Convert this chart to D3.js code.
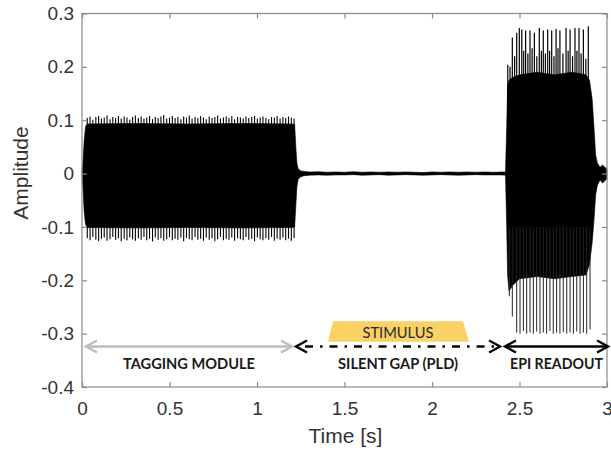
<!DOCTYPE html>
<html>
<head>
<meta charset="utf-8">
<script src="https://cdn.jsdelivr.net/npm/d3@7"></script>
<style>
  body { margin: 0; background: #fff; }
  svg { display: block; }
</style>
</head>
<body>
<div id="chart"></div>
<script>
// tick labels
const xTicks = [0, 0.5, 1, 1.5, 2, 2.5, 3]
const yTicks = [-0.4, -0.3, -0.2, -0.1, 0, 0.1, 0.2, 0.3]

// solid core of the signal: time, upper edge, lower edge
const bodyT = [0, 0.006, 0.012, 0.02, 0.03, 0.3, 0.6, 0.9, 1.2, 1.215, 1.222, 1.228, 1.235, 1.25, 1.27,
  1.3, 1.35, 1.4, 1.45, 1.5, 1.55, 1.6, 1.65, 1.7, 1.75, 1.8, 1.85, 1.9, 1.95, 2.0, 2.05, 2.1, 2.15,
  2.2, 2.25, 2.3, 2.35, 2.4, 2.42, 2.427, 2.432, 2.44, 2.46, 2.5, 2.6, 2.7, 2.8, 2.88, 2.9, 2.915,
  2.925, 2.935, 2.945, 2.96, 2.975, 2.985, 3.0]
const bodyHi = [0, 0.025, 0.06, 0.088, 0.093, 0.094, 0.093, 0.094, 0.093, 0.092, 0.05, 0.02, 0.009, 0.005, 0.004,
  0.003, 0.0035, 0.0025, 0.003, 0.0025, 0.0035, 0.0025, 0.003, 0.0025, 0.003, 0.0025, 0.003, 0.0025, 0.002, 0.003, 0.0025, 0.003, 0.0025,
  0.003, 0.0025, 0.003, 0.0025, 0.003, 0.003, 0.09, 0.165, 0.175, 0.18, 0.185, 0.19, 0.185, 0.19, 0.185, 0.175, 0.14,
  0.09, 0.035, 0.02, 0.012, 0.016, 0.013, 0.008]
const bodyLo = [0, -0.03, -0.07, -0.095, -0.101, -0.102, -0.101, -0.102, -0.101, -0.1, -0.06, -0.025, -0.011, -0.006, -0.004,
  -0.003, -0.0025, -0.003, -0.0025, -0.0025, -0.002, -0.003, -0.0025, -0.002, -0.003, -0.0025, -0.002, -0.0025, -0.003, -0.0025, -0.002, -0.0025, -0.003,
  -0.0025, -0.002, -0.0025, -0.0025, -0.0025, -0.003, -0.1, -0.19, -0.22, -0.21, -0.197, -0.193, -0.197, -0.193, -0.19, -0.17, -0.13,
  -0.09, -0.04, -0.022, -0.012, -0.018, -0.014, -0.01]

// tagging module oscillation peaks
const tagT = [0.030, 0.046, 0.062, 0.079, 0.095, 0.111, 0.127, 0.143, 0.160, 0.176,
  0.192, 0.208, 0.224, 0.241, 0.257, 0.273, 0.289, 0.305, 0.322, 0.338,
  0.354, 0.370, 0.386, 0.403, 0.419, 0.435, 0.451, 0.467, 0.484, 0.500,
  0.516, 0.532, 0.548, 0.565, 0.581, 0.597, 0.613, 0.629, 0.646, 0.662,
  0.678, 0.694, 0.710, 0.727, 0.743, 0.759, 0.775, 0.791, 0.808, 0.824,
  0.840, 0.856, 0.872, 0.889, 0.905, 0.921, 0.937, 0.953, 0.970, 0.986,
  1.002, 1.018, 1.034, 1.051, 1.067, 1.083, 1.099, 1.115, 1.132, 1.148,
  1.164, 1.180, 1.196, 1.212]
const tagHi = [0.104, 0.107, 0.101, 0.106, 0.108, 0.103, 0.105, 0.109, 0.102, 0.106,
  0.104, 0.108, 0.103, 0.107, 0.105, 0.101, 0.106, 0.109, 0.104, 0.107,
  0.103, 0.105, 0.108, 0.102, 0.106, 0.104, 0.107, 0.110, 0.103, 0.105,
  0.108, 0.104, 0.106, 0.102, 0.107, 0.105, 0.109, 0.103, 0.106, 0.104,
  0.108, 0.105, 0.102, 0.107, 0.104, 0.106, 0.109, 0.103, 0.105, 0.107,
  0.104, 0.108, 0.102, 0.106, 0.105, 0.103, 0.107, 0.104, 0.106, 0.108,
  0.103, 0.105, 0.107, 0.104, 0.102, 0.106, 0.105, 0.108, 0.103, 0.106,
  0.104, 0.107, 0.105, 0.103]
const tagLo = [-0.121, -0.125, -0.119, -0.124, -0.127, -0.122, -0.120, -0.126, -0.123, -0.119,
  -0.124, -0.121, -0.127, -0.122, -0.125, -0.120, -0.123, -0.126, -0.121, -0.124,
  -0.119, -0.125, -0.122, -0.127, -0.120, -0.124, -0.121, -0.126, -0.123, -0.119,
  -0.125, -0.122, -0.124, -0.120, -0.127, -0.121, -0.123, -0.125, -0.119, -0.124,
  -0.122, -0.126, -0.120, -0.124, -0.121, -0.127, -0.123, -0.119, -0.125, -0.122,
  -0.124, -0.120, -0.126, -0.121, -0.123, -0.125, -0.119, -0.124, -0.122, -0.127,
  -0.120, -0.123, -0.125, -0.121, -0.124, -0.119, -0.126, -0.122, -0.124, -0.120,
  -0.125, -0.122, -0.126, -0.121]

// EPI readout echoes, upper and lower peaks
const epiTopT = [2.433, 2.446, 2.459, 2.472, 2.484, 2.499, 2.513, 2.524, 2.535, 2.548,
  2.560, 2.572, 2.585, 2.599, 2.613, 2.625, 2.636, 2.648, 2.661, 2.672,
  2.684, 2.697, 2.709, 2.720, 2.731, 2.748, 2.766, 2.778, 2.789, 2.803,
  2.817, 2.828, 2.840, 2.852, 2.865, 2.879, 2.893]
const epiTopHi = [0.204, 0.200, 0.255, 0.220, 0.264, 0.273, 0.270, 0.230, 0.268, 0.225,
  0.268, 0.235, 0.264, 0.220, 0.273, 0.230, 0.268, 0.225, 0.270, 0.230,
  0.268, 0.220, 0.271, 0.235, 0.268, 0.225, 0.273, 0.230, 0.270, 0.220,
  0.273, 0.230, 0.273, 0.225, 0.270, 0.215, 0.276]
const epiBotT = [2.442, 2.459, 2.484, 2.503, 2.522, 2.541, 2.560, 2.579, 2.598, 2.617,
  2.636, 2.655, 2.674, 2.693, 2.712, 2.731, 2.750, 2.770, 2.789, 2.808,
  2.827, 2.846, 2.865, 2.884, 2.903]
const epiBotLo = [-0.230, -0.268, -0.298, -0.300, -0.295, -0.300, -0.298, -0.300, -0.296, -0.300,
  -0.298, -0.300, -0.295, -0.300, -0.298, -0.300, -0.297, -0.300, -0.298, -0.300,
  -0.296, -0.300, -0.298, -0.300, -0.292]

// sequence phases (time spans) and stimulus window
const phaseNames = ["TAGGING MODULE", "SILENT GAP (PLD)", "EPI READOUT"]
const phaseStart = [0.023, 1.223, 2.417]
const phaseEnd = [1.2, 2.389, 3.006]
const phaseLevel = -0.324
const stimulusLabel = "STIMULUS"
const stimulusTop = [1.434, 2.177, -0.277]
const stimulusBottom = [1.406, 2.211, -0.315]

const width = 611
const height = 453
const margin = {top: 13.5, right: 4, bottom: 66, left: 82}
const axisColor = "#8a8a8a"
const textColor = "#333"

const svg = d3.select('#chart')
  .append("svg")
  .attr("width", width)
  .attr("height", height)

const x = d3.scaleLinear()
  .domain([0, 3])
  .range([margin.left, width - margin.right])
const y = d3.scaleLinear()
  .domain([-0.4, 0.3])
  .range([height - margin.bottom, margin.top])

// waveform core
const area = d3.area()
  .x(function(i) { return x(bodyT[i]) })
  .y0(function(i) { return y(bodyLo[i]) })
  .y1(function(i) { return y(bodyHi[i]) })
svg.append("path")
  .datum(d3.range(bodyT.length))
  .attr("d", area)
  .attr("fill", "#000")
  .attr("stroke", "#000")
  .attr("stroke-width", 0.6)

// oscillation peaks
svg.append("g").selectAll("line")
  .data(d3.range(tagT.length))
  .enter()
  .append("line")
  .attr("x1", function(i) { return x(tagT[i]) })
  .attr("x2", function(i) { return x(tagT[i]) })
  .attr("y1", function(i) { return y(tagLo[i]) })
  .attr("y2", function(i) { return y(tagHi[i]) })
  .attr("stroke", "#000")
  .attr("stroke-width", 1.1)

svg.append("g").selectAll("line")
  .data(d3.range(epiTopT.length))
  .enter()
  .append("line")
  .attr("x1", function(i) { return x(epiTopT[i]) })
  .attr("x2", function(i) { return x(epiTopT[i]) })
  .attr("y1", y(0.1))
  .attr("y2", function(i) { return y(epiTopHi[i]) })
  .attr("stroke", "#000")
  .attr("stroke-width", 1.2)

svg.append("g").selectAll("line")
  .data(d3.range(epiBotT.length))
  .enter()
  .append("line")
  .attr("x1", function(i) { return x(epiBotT[i]) })
  .attr("x2", function(i) { return x(epiBotT[i]) })
  .attr("y1", y(-0.1))
  .attr("y2", function(i) { return y(epiBotLo[i]) })
  .attr("stroke", "#222")
  .attr("stroke-width", 1)

// box and axes
svg.append("rect")
  .attr("x", x(0))
  .attr("y", y(0.3))
  .attr("width", x(3) - x(0))
  .attr("height", y(-0.4) - y(0.3))
  .attr("fill", "none")
  .attr("stroke", axisColor)
  .attr("stroke-width", 1.2)

const fmt = function(d) { return String(d) }

svg.append("g")
  .attr("transform", "translate(0," + y(-0.4) + ")")
  .call(d3.axisBottom(x).tickValues(xTicks).tickSizeInner(-5).tickSizeOuter(0).tickPadding(15).tickFormat(fmt))
svg.append("g")
  .attr("transform", "translate(0," + y(0.3) + ")")
  .call(d3.axisTop(x).tickValues(xTicks).tickSizeInner(-5).tickSizeOuter(0).tickFormat(""))
svg.append("g")
  .attr("transform", "translate(" + x(0) + ",0)")
  .call(d3.axisLeft(y).tickValues(yTicks).tickSizeInner(-5).tickSizeOuter(0).tickPadding(8).tickFormat(fmt))
svg.append("g")
  .attr("transform", "translate(" + x(3) + ",0)")
  .call(d3.axisRight(y).tickValues(yTicks).tickSizeInner(-5).tickSizeOuter(0).tickFormat(""))

svg.selectAll(".domain").remove()
svg.selectAll(".tick line").attr("stroke", axisColor).attr("stroke-width", 1.2)
svg.selectAll(".tick text")
  .attr("fill", textColor)
  .style("font-family", "'Liberation Sans', Arial, sans-serif")
  .style("font-size", "19px")

// axis titles
svg.append("text")
  .attr("x", (x(0) + x(3)) / 2 + 1)
  .attr("y", 443)
  .attr("text-anchor", "middle")
  .attr("fill", textColor)
  .style("font-family", "'Liberation Sans', Arial, sans-serif")
  .style("font-size", "21px")
  .text("Time [s]")

svg.append("text")
  .attr("transform", "translate(28,173)rotate(-90)")
  .attr("text-anchor", "middle")
  .attr("fill", textColor)
  .style("font-family", "'Liberation Sans', Arial, sans-serif")
  .style("font-size", "21px")
  .text("Amplitude")

// stimulus window
svg.append("path")
  .attr("d", "M" + x(stimulusBottom[0]) + "," + y(stimulusBottom[2]) +
    "L" + x(stimulusTop[0]) + "," + y(stimulusTop[2]) +
    "L" + x(stimulusTop[1]) + "," + y(stimulusTop[2]) +
    "L" + x(stimulusBottom[1]) + "," + y(stimulusBottom[2]) + "Z")
  .attr("fill", "#f9d164")

svg.append("text")
  .attr("x", x((stimulusTop[0] + stimulusTop[1]) / 2))
  .attr("y", 338)
  .attr("text-anchor", "middle")
  .attr("fill", "#2a2a2a")
  .attr("textLength", 71)
  .attr("lengthAdjust", "spacingAndGlyphs")
  .style("font-family", "Lato, 'Open Sans', sans-serif")
  .style("font-size", "15px")
  .text(stimulusLabel)

// phase arrows
const ay = y(phaseLevel)
function chevron(tip, dir) {
  return "M" + (tip + dir * 11) + "," + (ay - 6) + "L" + tip + "," + ay + "L" + (tip + dir * 11) + "," + (ay + 6)
}
const phaseColor = ["#bdbdbd", "#000", "#000"]
const phaseDash = [null, "8,7,2.5,7", null]
const labelWidth = [132, 120, 93]

phaseNames.forEach(function(name, i) {
  const x0 = x(phaseStart[i]), x1 = x(phaseEnd[i])
  const g = svg.append("g")
    .attr("stroke", phaseColor[i])
    .attr("stroke-width", 2.4)
    .attr("fill", "none")
  g.append("line")
    .attr("x1", i == 1 ? x0 + 9 : x0)
    .attr("x2", i == 1 ? x1 - 2 : x1)
    .attr("y1", ay)
    .attr("y2", ay)
    .attr("stroke-dasharray", phaseDash[i])
  g.append("path").attr("d", chevron(x0, 1))
  g.append("path").attr("d", chevron(x1, -1))

  svg.append("text")
    .attr("x", x((phaseStart[i] + phaseEnd[i]) / 2))
    .attr("y", 369)
    .attr("text-anchor", "middle")
    .attr("fill", "#1a1a1a")
    .attr("textLength", labelWidth[i])
    .attr("lengthAdjust", "spacingAndGlyphs")
    .style("font-family", "Lato, 'Open Sans', sans-serif")
    .style("font-weight", "bold")
    .style("font-size", "15px")
    .text(name)
})
</script>
</body>
</html>
